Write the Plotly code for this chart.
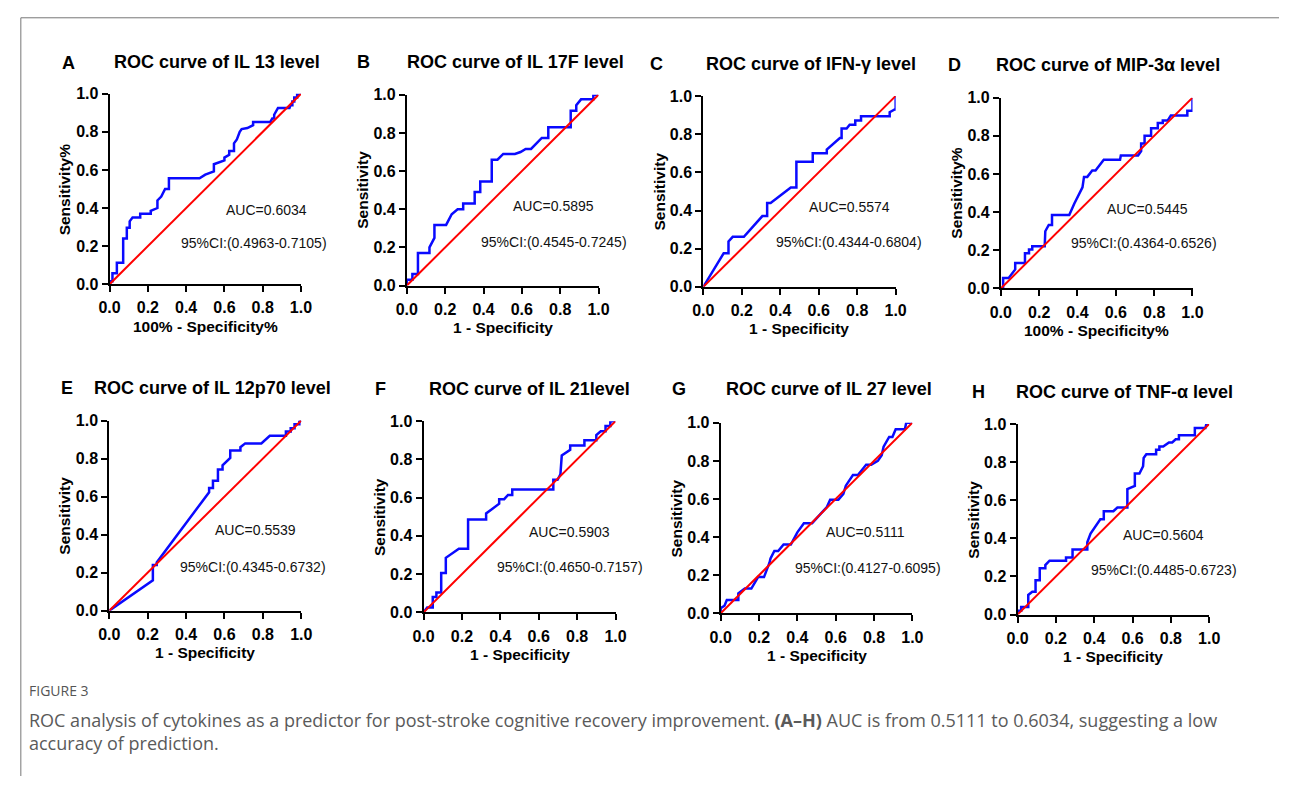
import plotly.graph_objects as go

W, H = 1290, 785

# ---------------- data ----------------
fpr_A = [0, 0.005, 0.015, 0.015, 0.038, 0.038, 0.071, 0.071, 0.09, 0.09, 0.105, 0.105, 0.12, 0.16, 0.16, 0.215, 0.215, 0.25, 0.25, 0.27, 0.29, 0.31, 0.31, 0.47, 0.50, 0.545, 0.545, 0.60, 0.60, 0.625, 0.625, 0.65, 0.65, 0.665, 0.68, 0.69, 0.72, 0.75, 0.75, 0.84, 0.85, 0.86, 0.86, 0.88, 0.94, 0.945, 0.955, 0.955, 0.965, 0.965, 0.98, 0.98, 1.0]
tpr_A = [0, 0.015, 0.015, 0.057, 0.057, 0.113, 0.113, 0.24, 0.24, 0.297, 0.297, 0.33, 0.35, 0.35, 0.37, 0.37, 0.385, 0.40, 0.44, 0.46, 0.50, 0.50, 0.556, 0.556, 0.575, 0.593, 0.63, 0.65, 0.665, 0.68, 0.70, 0.70, 0.74, 0.76, 0.80, 0.815, 0.82, 0.835, 0.852, 0.852, 0.87, 0.87, 0.89, 0.926, 0.926, 0.94, 0.94, 0.96, 0.96, 0.98, 0.98, 1.0, 1.0]

fpr_B = [0, 0, 0.029, 0.029, 0.058, 0.058, 0.118, 0.118, 0.144, 0.144, 0.205, 0.234, 0.265, 0.294, 0.294, 0.354, 0.354, 0.383, 0.383, 0.443, 0.443, 0.473, 0.503, 0.564, 0.593, 0.62, 0.648, 0.704, 0.738, 0.738, 0.855, 0.855, 0.884, 0.884, 0.909, 0.973, 0.973, 1.0]
tpr_B = [0, 0.03, 0.03, 0.06, 0.06, 0.17, 0.17, 0.20, 0.25, 0.318, 0.318, 0.374, 0.40, 0.40, 0.43, 0.43, 0.49, 0.49, 0.545, 0.545, 0.66, 0.66, 0.69, 0.69, 0.70, 0.716, 0.716, 0.774, 0.774, 0.83, 0.83, 0.916, 0.916, 0.945, 0.976, 0.976, 1.0, 1.0]

fpr_C = [0, 0.106, 0.131, 0.131, 0.153, 0.211, 0.307, 0.332, 0.332, 0.35, 0.455, 0.484, 0.484, 0.569, 0.569, 0.642, 0.642, 0.71, 0.719, 0.719, 0.745, 0.761, 0.79, 0.79, 0.82, 0.82, 0.969, 0.969, 0.995, 1.0, 1.0]
tpr_C = [0, 0.176, 0.176, 0.238, 0.262, 0.262, 0.371, 0.371, 0.44, 0.44, 0.521, 0.521, 0.655, 0.655, 0.70, 0.70, 0.72, 0.78, 0.78, 0.83, 0.83, 0.85, 0.85, 0.872, 0.872, 0.894, 0.894, 0.915, 0.93, 0.93, 1.0]

fpr_D = [0, 0.012, 0.012, 0.041, 0.075, 0.075, 0.126, 0.126, 0.147, 0.147, 0.164, 0.164, 0.229, 0.229, 0.232, 0.232, 0.25, 0.267, 0.267, 0.357, 0.383, 0.426, 0.434, 0.451, 0.477, 0.494, 0.537, 0.622, 0.626, 0.716, 0.732, 0.732, 0.75, 0.75, 0.784, 0.784, 0.819, 0.819, 0.845, 0.845, 0.87, 0.887, 0.973, 0.973, 1.0, 1.0]
tpr_D = [0, 0, 0.055, 0.055, 0.10, 0.133, 0.133, 0.185, 0.185, 0.205, 0.205, 0.222, 0.222, 0.243, 0.243, 0.30, 0.333, 0.333, 0.385, 0.385, 0.444, 0.53, 0.585, 0.585, 0.619, 0.619, 0.675, 0.675, 0.697, 0.697, 0.72, 0.76, 0.76, 0.80, 0.80, 0.84, 0.84, 0.868, 0.868, 0.88, 0.88, 0.907, 0.907, 0.932, 0.932, 1.0]

fpr_E = [0, 0.227, 0.227, 0.247, 0.247, 0.52, 0.52, 0.54, 0.54, 0.566, 0.566, 0.59, 0.59, 0.63, 0.63, 0.683, 0.683, 0.708, 0.792, 0.836, 0.92, 0.92, 0.945, 0.945, 0.965, 0.965, 0.99, 0.99, 1.0]
tpr_E = [0, 0.16, 0.24, 0.24, 0.254, 0.623, 0.645, 0.645, 0.683, 0.683, 0.743, 0.743, 0.765, 0.803, 0.842, 0.842, 0.86, 0.88, 0.88, 0.92, 0.92, 0.943, 0.943, 0.96, 0.96, 0.98, 0.98, 0.995, 1.0]

fpr_F = [0, 0.019, 0.048, 0.048, 0.067, 0.067, 0.092, 0.092, 0.116, 0.116, 0.184, 0.232, 0.232, 0.326, 0.326, 0.394, 0.394, 0.42, 0.44, 0.462, 0.462, 0.676, 0.676, 0.698, 0.713, 0.72, 0.764, 0.764, 0.838, 0.838, 0.9, 0.9, 0.923, 0.948, 0.948, 0.973, 0.973, 1.0]
tpr_F = [0, 0.025, 0.025, 0.08, 0.08, 0.104, 0.104, 0.206, 0.206, 0.285, 0.333, 0.333, 0.486, 0.486, 0.517, 0.568, 0.592, 0.592, 0.614, 0.614, 0.643, 0.643, 0.693, 0.693, 0.722, 0.82, 0.85, 0.872, 0.872, 0.90, 0.90, 0.927, 0.947, 0.947, 0.974, 0.974, 1.0, 1.0]

fpr_G = [0, 0, 0.02, 0.032, 0.092, 0.092, 0.126, 0.16, 0.195, 0.226, 0.255, 0.26, 0.28, 0.30, 0.328, 0.366, 0.40, 0.434, 0.477, 0.525, 0.554, 0.571, 0.614, 0.64, 0.653, 0.69, 0.716, 0.759, 0.785, 0.82, 0.84, 0.85, 0.879, 0.896, 0.913, 0.961, 0.968, 1.0]
tpr_G = [0, 0.027, 0.04, 0.07, 0.07, 0.104, 0.13, 0.13, 0.19, 0.19, 0.267, 0.288, 0.327, 0.327, 0.361, 0.361, 0.425, 0.473, 0.473, 0.527, 0.558, 0.596, 0.596, 0.627, 0.67, 0.726, 0.726, 0.78, 0.78, 0.80, 0.83, 0.875, 0.926, 0.926, 0.966, 0.966, 1.0, 1.0]

fpr_H = [0, 0, 0.019, 0.019, 0.056, 0.056, 0.077, 0.094, 0.094, 0.116, 0.116, 0.145, 0.145, 0.167, 0.253, 0.253, 0.287, 0.287, 0.364, 0.364, 0.381, 0.432, 0.45, 0.45, 0.5, 0.521, 0.573, 0.573, 0.612, 0.612, 0.636, 0.655, 0.658, 0.672, 0.723, 0.723, 0.74, 0.74, 0.76, 0.79, 0.807, 0.825, 0.842, 0.842, 0.925, 0.925, 0.98, 0.985, 1.0]
tpr_H = [0, 0.02, 0.02, 0.04, 0.04, 0.103, 0.12, 0.12, 0.18, 0.18, 0.243, 0.243, 0.26, 0.283, 0.283, 0.30, 0.30, 0.342, 0.342, 0.38, 0.425, 0.50, 0.50, 0.543, 0.543, 0.562, 0.562, 0.659, 0.676, 0.74, 0.74, 0.779, 0.822, 0.842, 0.842, 0.865, 0.865, 0.882, 0.882, 0.904, 0.904, 0.92, 0.92, 0.942, 0.942, 0.979, 0.979, 1.0, 1.0]

ref_x = [0, 1]
ref_y = [0, 1]

letters = ["A", "B", "C", "D", "E", "F", "G", "H"]
titles = ["ROC curve of IL 13 level", "ROC curve of IL 17F level", "ROC curve of IFN-γ level",
          "ROC curve of MIP-3α level", "ROC curve of IL 12p70 level", "ROC curve of IL 21level",
          "ROC curve of IL 27 level", "ROC curve of TNF-α level"]
x_titles = ["100% - Specificity%", "1 - Specificity", "1 - Specificity", "100% - Specificity%",
            "1 - Specificity", "1 - Specificity", "1 - Specificity", "1 - Specificity"]
y_titles = ["Sensitivity%", "Sensitivity", "Sensitivity", "Sensitivity%",
            "Sensitivity", "Sensitivity", "Sensitivity", "Sensitivity"]
auc_texts = ["AUC=0.6034", "AUC=0.5895", "AUC=0.5574", "AUC=0.5445",
             "AUC=0.5539", "AUC=0.5903", "AUC=0.5111", "AUC=0.5604"]
ci_texts = ["95%CI:(0.4963-0.7105)", "95%CI:(0.4545-0.7245)", "95%CI:(0.4344-0.6804)",
            "95%CI:(0.4364-0.6526)", "95%CI:(0.4345-0.6732)", "95%CI:(0.4650-0.7157)",
            "95%CI:(0.4127-0.6095)", "95%CI:(0.4485-0.6723)"]
tick_vals = [0, 0.2, 0.4, 0.6, 0.8, 1.0]
tick_text = ["0.0", "0.2", "0.4", "0.6", "0.8", "1.0"]
caption_label = "FIGURE 3"
caption_text = ("ROC analysis of cytokines as a predictor for post-stroke cognitive recovery improvement. "
                "<b>(A–H)</b> AUC is from 0.5111 to 0.6034, suggesting a low<br>accuracy of prediction.")

fprs = [fpr_A, fpr_B, fpr_C, fpr_D, fpr_E, fpr_F, fpr_G, fpr_H]
tprs = [tpr_A, tpr_B, tpr_C, tpr_D, tpr_E, tpr_F, tpr_G, tpr_H]

# ---------------- layout (page-pixel boxes of each plot area) ----------------
boxes = [  # x0, x1, ytop, ybottom in page pixels
    (100.3, 295.0, 87.7, 282.3),
    (402.7, 597.7, 88.7, 283.7),
    (704.3, 900.0, 90.0, 285.0),
    (1007.0, 1202.0, 91.7, 286.7),
    (100.0, 295.3, 421.7, 616.0),
    (419.7, 615.0, 422.3, 617.7),
    (722.0, 917.0, 424.0, 618.7),
    (1024.0, 1219.0, 425.3, 620.0),
]
title_pos = [(210, 55), (513, 55), (814, 57), (1116, 58), (205, 388), (528, 389), (832, 389), (1133, 392)]
letter_pos = [(58, 56), (359, 55), (657, 57), (960, 58), (57, 388), (376, 389), (680, 389), (984, 392)]
auc_pos = [(0.818, 0.392), (0.764, 0.415), (0.76, 0.419), (0.763, 0.419),
           (0.763, 0.422), (0.762, 0.42), (0.754, 0.425), (0.759, 0.42)]
ci_pos = [(0.753, 0.217), (0.768, 0.229), (0.755, 0.234), (0.749, 0.236),
          (0.75, 0.232), (0.765, 0.235), (0.767, 0.24), (0.765, 0.236)]

FONT = "Liberation Sans, Arial, sans-serif"
BLUE = "#0a0aff"
RED = "#ff0000"


def px(x):
    return x / W


def py(y):
    return 1 - y / H


fig = go.Figure()
annotations = []

for i in range(8):
    n = "" if i == 0 else str(i + 1)
    xa, ya = "x" + n, "y" + n
    x0, x1, yt, yb = boxes[i]
    fig.add_trace(go.Scatter(x=fprs[i], y=tprs[i], mode="lines", xaxis=xa, yaxis=ya,
                             line=dict(color=BLUE, width=2.5), showlegend=False, hoverinfo="skip"))
    fig.add_trace(go.Scatter(x=ref_x, y=ref_y, mode="lines", xaxis=xa, yaxis=ya,
                             line=dict(color=RED, width=2), showlegend=False, hoverinfo="skip"))
    axis_common = dict(range=[0, 1], showline=True, linecolor="black", linewidth=2,
                       ticks="outside", ticklen=6, tickwidth=2, tickcolor="black",
                       tickvals=tick_vals, ticktext=tick_text, showgrid=False, zeroline=False,
                       tickfont=dict(family=FONT, size=16, color="black", weight="bold"),
                       fixedrange=True)
    fig.update_layout(**{
        "xaxis" + n: dict(domain=[px(x0), px(x1)], anchor=ya, ticklabelstandoff=2, **axis_common),
        "yaxis" + n: dict(domain=[py(yb), py(yt)], anchor=xa, **axis_common),
    })
    annotations.append(dict(text=titles[i], x=px(title_pos[i][0]), y=py(title_pos[i][1]),
                            xref="paper", yref="paper", xanchor="center", yanchor="middle",
                            showarrow=False, font=dict(family=FONT, size=18, color="black", weight="bold")))
    annotations.append(dict(text=letters[i], x=px(letter_pos[i][0]), y=py(letter_pos[i][1]),
                            xref="paper", yref="paper", xanchor="center", yanchor="middle",
                            showarrow=False, font=dict(family=FONT, size=18, color="black", weight="bold")))
    annotations.append(dict(text=x_titles[i], x=px((x0 + x1) / 2), y=py(yb + 43),
                            xref="paper", yref="paper", xanchor="center", yanchor="middle",
                            showarrow=False, font=dict(family=FONT, size=15.5, color="black", weight="bold")))
    annotations.append(dict(text=y_titles[i], x=px(x0 - 45), y=py((yt + yb) / 2), textangle=-90,
                            xref="paper", yref="paper", xanchor="center", yanchor="middle",
                            showarrow=False, font=dict(family=FONT, size=15.5, color="black", weight="bold")))
    annotations.append(dict(text=auc_texts[i], x=auc_pos[i][0], y=auc_pos[i][1], xref=xa, yref=ya,
                            xanchor="center", yanchor="middle", showarrow=False,
                            font=dict(family=FONT, size=14, color="#111111")))
    annotations.append(dict(text=ci_texts[i], x=ci_pos[i][0], y=ci_pos[i][1], xref=xa, yref=ya,
                            xanchor="center", yanchor="middle", showarrow=False,
                            font=dict(family=FONT, size=14, color="#111111")))

# caption
CAP = "Open Sans, Noto Sans, sans-serif"
annotations.append(dict(text=caption_label, x=px(16), y=py(698), xref="paper", yref="paper",
                        xanchor="left", yanchor="middle", showarrow=False,
                        font=dict(family=CAP, size=14, color="#555555")))
annotations.append(dict(text=caption_text, x=px(16), y=py(739.5), xref="paper", yref="paper",
                        xanchor="left", yanchor="middle", align="left", showarrow=False,
                        font=dict(family=CAP, size=18, color="#5a5a5a")))

shapes = [
    dict(type="line", xref="paper", yref="paper", x0=px(10), x1=1, y0=py(10), y1=py(10),
         line=dict(color="#777777", width=1)),
    dict(type="line", xref="paper", yref="paper", x0=px(10), x1=px(10), y0=py(10), y1=0,
         line=dict(color="#777777", width=1)),
]

fig.update_layout(width=W, height=H, autosize=False, margin=dict(l=0, r=0, t=0, b=0),
                  paper_bgcolor="white", plot_bgcolor="white",
                  annotations=annotations, shapes=shapes)

fig.write_html("out.html", config={"displayModeBar": False},
               post_script="document.body.style.margin='0';document.body.style.overflow='hidden';")
